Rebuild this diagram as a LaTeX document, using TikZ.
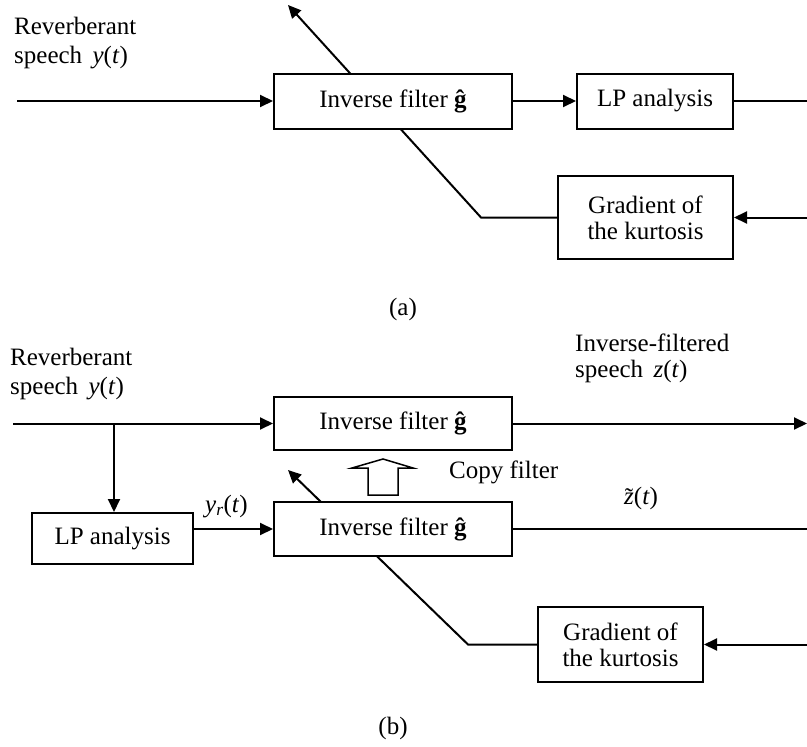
\documentclass[tikz,border=0pt]{standalone}
\usepackage{fontspec}
\setmainfont{Liberation Serif}
\usetikzlibrary{arrows.meta,backgrounds}
\newcommand{\ztilde}{\ooalign{\textit{z}\cr\hfil\raisebox{-1pt}{\char"02DC}\hfil\cr}}
\begin{document}
\begin{tikzpicture}[x=1pt,y=-1pt,
  font=\fontsize{25}{29}\selectfont,
  blk/.style={draw,line width=2pt,fill=white,inner sep=0pt,align=center},
  conn/.style={line width=2pt},
  arr/.style={conn,-{Triangle[length=13pt,width=12pt]}},
  lbl/.style={inner sep=0pt,align=left,anchor=north west}]
\useasboundingbox (0,0) rectangle (807,747);
\coordinate (edge) at (807,0);

% ---------- (a) ----------
\node[blk,minimum width=238pt,minimum height=55pt] (invA) at (393,101) {Inverse filter \textbf{ĝ}};
\node[blk,minimum width=156pt,minimum height=55pt] (lpA) at (655,101) {LP analysis};
\node[blk,minimum width=175pt,minimum height=83pt] (gradA) at (645.5,217.5) {Gradient of\\[-3pt]the kurtosis};
\node[lbl] (txtA) at (14,17) {Reverberant\\speech \,\textit{y}(\textit{t})};
\node (capA) at (403,309) {(a)};
\coordinate (inA) at (17,101);
\coordinate (kA) at (481,217.5);
\coordinate (tipA) at (288,5);

\draw[arr] (inA) -- (invA.west);
\draw[arr] (invA.east) -- (lpA.west);
\draw[conn] (lpA.east) -- (lpA.east -| edge);
\draw[arr] (gradA.east -| edge) -- (gradA.east);
\begin{scope}[on background layer]
\draw[arr] (gradA.west) -- (kA) -- (tipA);
\end{scope}

% ---------- (b) ----------
\node[blk,minimum width=238pt,minimum height=53pt] (invB1) at (393,423.5) {Inverse filter \textbf{ĝ}};
\node[blk,minimum width=238pt,minimum height=54pt] (invB2) at (393,529) {Inverse filter \textbf{ĝ}};
\node[blk,minimum width=161pt,minimum height=51pt] (lpB) at (112.5,538.5) {LP analysis};
\node[blk,minimum width=165pt,minimum height=75pt] (gradB) at (620.5,644.5) {Gradient of\\[-3pt]the kurtosis};
\node[lbl] (txtB) at (10,348) {Reverberant\\speech \,\textit{y}(\textit{t})};
\node[lbl] (txtZ) at (575,334) {Inverse-filtered\\[-3pt]speech \,\textit{z}(\textit{t})};
\node[inner sep=0pt,anchor=base west] (cpy) at (449,478) {Copy filter};
\node[inner sep=0pt,anchor=base west] (yr) at (205,512) {\textit{y}\textsubscript{\textit{r}}(\textit{t})};
\node[inner sep=0pt,anchor=base west] (zt) at (624,504) {\ztilde(\textit{t})};
\node (capB) at (393,728) {(b)};
\coordinate (inB) at (13,423.5);
\coordinate (br) at (114,423.5);
\coordinate (kB) at (468,644.5);
\coordinate (tipB) at (288,470);

\draw[arr] (inB) -- (invB1.west);
\draw[arr] (br) -- (br |- lpB.north);
\draw[arr] (lpB.east |- invB2.west) -- (invB2.west);
\draw[arr] (invB1.east) -- (invB1.east -| edge);
\draw[conn] (invB2.east) -- (invB2.east -| edge);
\draw[arr] (gradB.east -| edge) -- (gradB.east);
\begin{scope}[on background layer]
\draw[arr] (gradB.west) -- (kB) -- (tipB);
\end{scope}
% copy-filter block arrow
\draw[line width=1.5pt,fill=white] (368,495) -- (368,468) -- (352,468) -- (383,459)
  -- (413,468) -- (398,468) -- (398,495) -- cycle;
\end{tikzpicture}
\end{document}
